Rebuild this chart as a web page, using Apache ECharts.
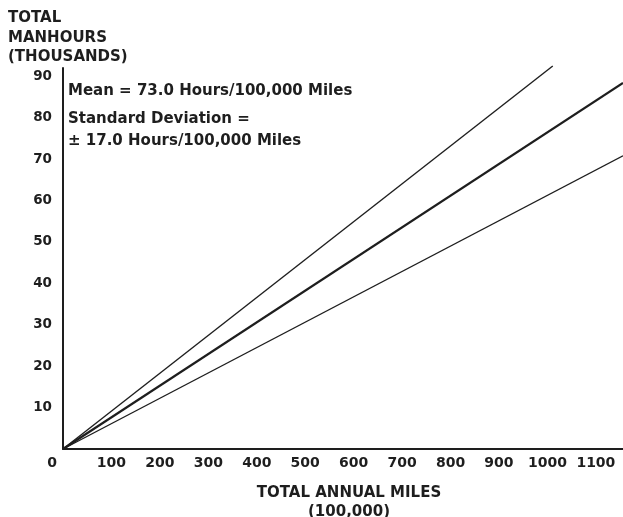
<!DOCTYPE html>
<html>
<head>
<meta charset="utf-8">
<script src="https://cdn.jsdelivr.net/npm/echarts@6/dist/echarts.min.js"></script>
<style>
html,body{margin:0;padding:0;background:#fff;}
#chart{width:623px;height:517px;}
</style>
</head>
<body>
<div id="chart"></div>
<script>
// Tick labels
const xTickValues = [0, 100, 200, 300, 400, 500, 600, 700, 800, 900, 1000, 1100];
const yTickValues = [0, 10, 20, 30, 40, 50, 60, 70, 80, 90];

// Lines: [miles (100,000), manhours (thousands)]
const upperLine = [[0, 0], [1011, 92.5]];   // mean + 1 SD
const meanLine  = [[0, 0], [1156, 88.4]];   // mean
const lowerLine = [[0, 0], [1156, 70.8]];   // mean - 1 SD

// Text
const yTitleLines = ['TOTAL', 'MANHOURS', '(THOUSANDS)'];
const xTitleLines = ['TOTAL ANNUAL MILES', '(100,000)'];
const noteLines = ['Mean = 73.0 Hours/100,000 Miles', 'Standard Deviation =', '\u00B1 17.0 Hours/100,000 Miles'];

const FONT = 'DejaVu Sans';
const INK = '#1e1e1e';

const chart = echarts.init(document.getElementById('chart'), null, {renderer: 'canvas'});

function lineSeries(data, width) {
  return {
    type: 'line',
    data: data,
    symbol: 'none',
    clip: false,
    silent: true,
    lineStyle: {color: INK, width: width},
    z: 5
  };
}

const textBase = {fontFamily: FONT, fontWeight: 'bold', fontSize: 15, fill: INK, verticalAlign: 'middle'};
function txt(x, y, s, extra) {
  return {type: 'text', x: x, y: y, style: Object.assign({}, textBase, {text: s}, extra || {})};
}

chart.setOption({
  animation: false,
  backgroundColor: '#fff',
  grid: {left: 63, right: 0, top: 68, bottom: 68, containLabel: false},
  xAxis: {
    type: 'value',
    min: 0,
    max: 1156,
    interval: 100,
    axisLine: {show: true, onZero: false, lineStyle: {color: INK, width: 2}},
    axisTick: {show: false},
    splitLine: {show: false},
    axisLabel: {
      margin: 7,
      fontFamily: FONT,
      fontWeight: 'bold',
      fontSize: 14,
      color: INK,
      showMaxLabel: false,
      formatter: function (v) {
        if (xTickValues.indexOf(v) < 0) return '';
        if (v === 0) return '{z|0}';
        return String(v);
      },
      rich: {z: {fontFamily: FONT, fontWeight: 'bold', fontSize: 14, color: INK, padding: [0, 22, 0, 0]}}
    }
  },
  yAxis: {
    type: 'value',
    min: 0,
    max: 92,
    interval: 10,
    axisLine: {show: true, onZero: false, lineStyle: {color: INK, width: 2}},
    axisTick: {show: false},
    splitLine: {show: false},
    axisLabel: {
      margin: 11,
      fontFamily: FONT,
      fontWeight: 'bold',
      fontSize: 13.5,
      color: INK,
      showMaxLabel: false,
      formatter: function (v) {
        if (v === 0 || yTickValues.indexOf(v) < 0) return '';
        return String(v);
      }
    }
  },
  series: [
    lineSeries(upperLine, 1.4),
    lineSeries(meanLine, 2.2),
    lineSeries(lowerLine, 1.4)
  ],
  graphic: [
    txt(8, 18, yTitleLines[0]),
    txt(8, 38, yTitleLines[1]),
    txt(8, 57, yTitleLines[2]),
    txt(68, 91, noteLines[0]),
    txt(68, 119, noteLines[1]),
    txt(68, 141, noteLines[2]),
    txt(349, 493, xTitleLines[0], {align: 'center'}),
    txt(349, 512, xTitleLines[1], {align: 'center'})
  ]
});
</script>
</body>
</html>
